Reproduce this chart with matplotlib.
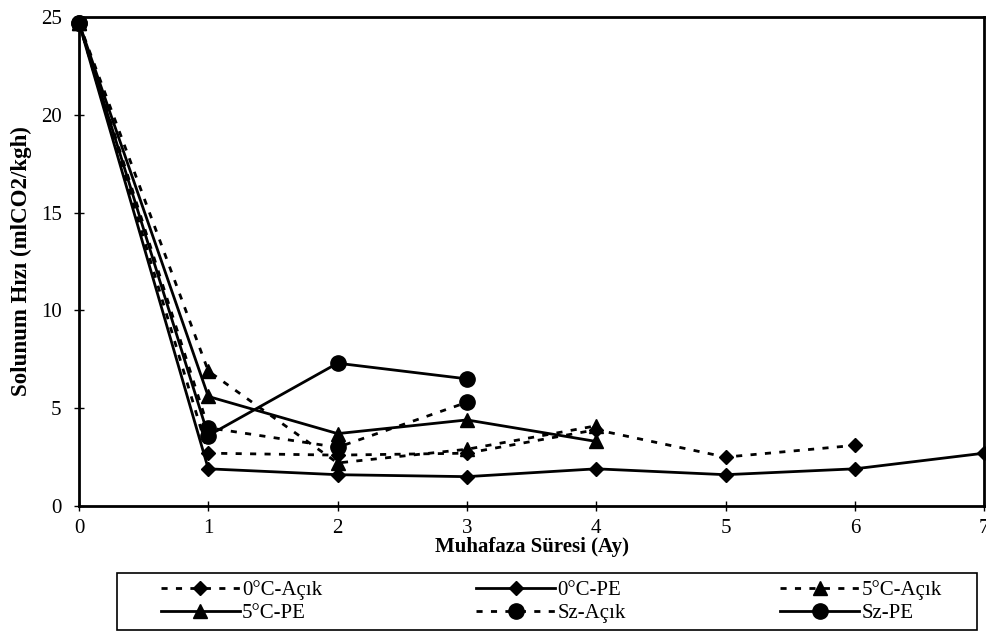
import matplotlib
matplotlib.use('Agg')
import matplotlib.pyplot as plt
from matplotlib.patches import Rectangle

plt.rcParams['font.family'] = ['Liberation Serif', 'DejaVu Serif']

# storage time (months) and respiration rate series
ay = [0, 1, 2, 3, 4, 5, 6, 7]
c0_acik = [24.7, 2.7, 2.6, 2.7, 3.9, 2.5, 3.1]
c0_pe = [24.7, 1.9, 1.6, 1.5, 1.9, 1.6, 1.9, 2.7]
c5_acik = [24.7, 6.9, 2.2, 2.9, 4.1]
c5_pe = [24.7, 5.6, 3.7, 4.4, 3.3]
sz_acik = [24.7, 4.0, 3.0, 5.3]
sz_pe = [24.7, 3.6, 7.3, 6.5]

xticks = list(range(0, 8))
yticks = [0, 5, 10, 15, 20, 25]

fig = plt.figure(figsize=(9.86, 6.44), dpi=100)
ax = fig.add_axes([0.0801, 0.2143, 0.918, 0.7593])

dash = (0, (2.2, 3.0))
ms = dict(color='black', markerfacecolor='black', markeredgecolor='black', clip_on=False)

series = [
    (c0_acik, dash, 'D', 7.5, '0°C-Açık'),
    (c0_pe, '-', 'D', 7.5, '0°C-PE'),
    (c5_acik, dash, '^', 10, '5°C-Açık'),
    (c5_pe, '-', '^', 10, '5°C-PE'),
    (sz_acik, dash, 'o', 11, 'Sz-Açık'),
    (sz_pe, '-', 'o', 11, 'Sz-PE'),
]
handles = {}
for vals, ls, mk, size, lab in series:
    h, = ax.plot(ay[:len(vals)], vals, linestyle=ls, linewidth=2, marker=mk,
                 markersize=size, label=lab, zorder=3, **ms)
    handles[lab] = h

ax.set_xlim(0, 7)
ax.set_ylim(0, 25)
ax.set_xticks(xticks)
ax.set_yticks(yticks)
ax.tick_params(direction='inout', length=7, width=1, labelsize=15, colors='black')
ax.tick_params(axis='x', pad=6)
ax.tick_params(axis='y', pad=9)
for s in ax.spines.values():
    s.set_linewidth(2)
    s.set_color('black')

ax.set_xlabel('Muhafaza Süresi (Ay)', fontsize=15, fontweight='bold', labelpad=-1)
ax.set_ylabel('Solunum Hızı (mlCO2/kgh)', fontsize=16.5, fontweight='bold', labelpad=6)

# legend box sits below the axes, full width
fig.patches.append(Rectangle((0.1187, 0.0217), 0.8722, 0.0885, transform=fig.transFigure,
                             fill=False, edgecolor='black', linewidth=1.2))

# legend is filled column-wise, so reorder to get the rows as in the original
order = ['0°C-Açık', '5°C-PE', '0°C-PE', 'Sz-Açık', '5°C-Açık', 'Sz-PE']
leg = fig.legend([handles[k] for k in order], order, ncol=3, loc='center left',
                 bbox_to_anchor=(0.163, 0.066), bbox_transform=fig.transFigure,
                 fontsize=15, frameon=False, handlelength=3.8, columnspacing=7.4,
                 borderpad=0, labelspacing=0.15, handletextpad=0.1, borderaxespad=0)

fig.savefig('out.png', dpi=100)
